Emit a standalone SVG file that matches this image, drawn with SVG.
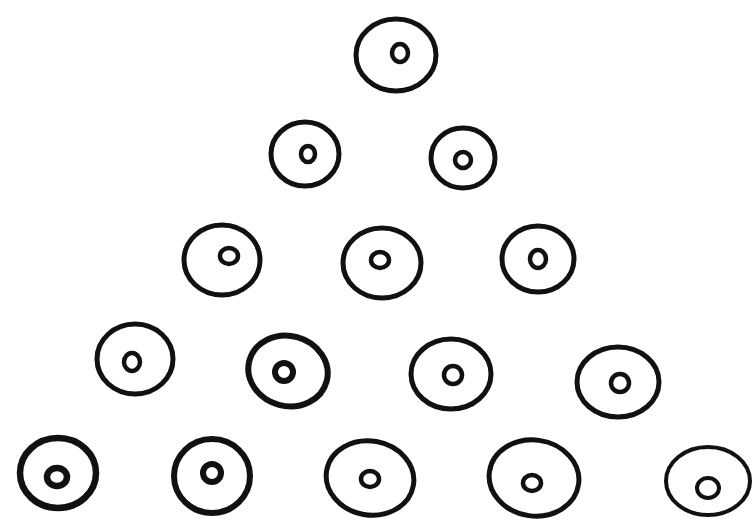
<svg xmlns="http://www.w3.org/2000/svg" width="755" height="521" viewBox="0 0 755 521">
<style>
.o{fill:none;stroke:#111;stroke-width:5}
.i{fill:none;stroke:#111;stroke-width:4.5}
</style>
<rect width="755" height="521" fill="#fff"/>
<g id="n1"><ellipse class="o" cx="396" cy="55" rx="40" ry="36"/><ellipse class="i" cx="400" cy="53" rx="8" ry="9"/></g>
<g id="n2"><ellipse class="o" cx="305" cy="154" rx="34" ry="32"/><ellipse class="i" cx="308" cy="154" rx="7" ry="8"/></g>
<g id="n3"><ellipse class="o" cx="463" cy="158" rx="32" ry="30"/><ellipse class="i" cx="463" cy="160" rx="8" ry="8"/></g>
<g id="n4"><ellipse class="o" cx="222" cy="260" rx="38" ry="35"/><ellipse class="i" cx="229" cy="256" rx="9" ry="8"/></g>
<g id="n5"><ellipse class="o" cx="382" cy="263" rx="39" ry="35"/><ellipse class="i" cx="380" cy="260" rx="9" ry="8"/></g>
<g id="n6"><ellipse class="o" cx="538" cy="259" rx="36" ry="33"/><ellipse class="i" cx="538" cy="259" rx="8" ry="9"/></g>
<g id="n7"><ellipse class="o" cx="135" cy="359" rx="38" ry="35"/><ellipse class="i" cx="132" cy="362" rx="8" ry="9"/></g>
<g id="n8"><ellipse class="o" cx="288" cy="371" rx="40" ry="35" transform="rotate(15 288 371)" style="stroke-width:6"/><ellipse class="i" cx="284" cy="372" rx="9" ry="9" style="stroke-width:6"/></g>
<g id="n9"><ellipse class="o" cx="451" cy="374" rx="40" ry="35"/><ellipse class="i" cx="453" cy="375" rx="9" ry="9"/></g>
<g id="n10"><ellipse class="o" cx="618" cy="382" rx="41" ry="35"/><ellipse class="i" cx="620" cy="383" rx="9" ry="9"/></g>
<g id="n11"><ellipse class="o" cx="58" cy="473" rx="38" ry="35" style="stroke-width:6.5"/><ellipse class="i" cx="57" cy="477" rx="10" ry="9" style="stroke-width:6.5"/></g>
<g id="n12"><ellipse class="o" cx="212" cy="476" rx="38" ry="37" style="stroke-width:6"/><ellipse class="i" cx="212" cy="473" rx="9" ry="9" style="stroke-width:6"/></g>
<g id="n13"><ellipse class="o" cx="370" cy="478" rx="44" ry="37" transform="rotate(10 370 478)"/><ellipse class="i" cx="370" cy="479" rx="9" ry="8"/></g>
<g id="n14"><ellipse class="o" cx="534" cy="478" rx="45" ry="38" transform="rotate(8 534 478)"/><ellipse class="i" cx="532" cy="483" rx="9" ry="8"/></g>
<g id="n15"><ellipse class="o" cx="708" cy="481" rx="42" ry="34" style="stroke-width:4"/><ellipse class="i" cx="708" cy="488" rx="11" ry="10" style="stroke-width:4"/></g>
<g id="connectors"></g>
</svg>
